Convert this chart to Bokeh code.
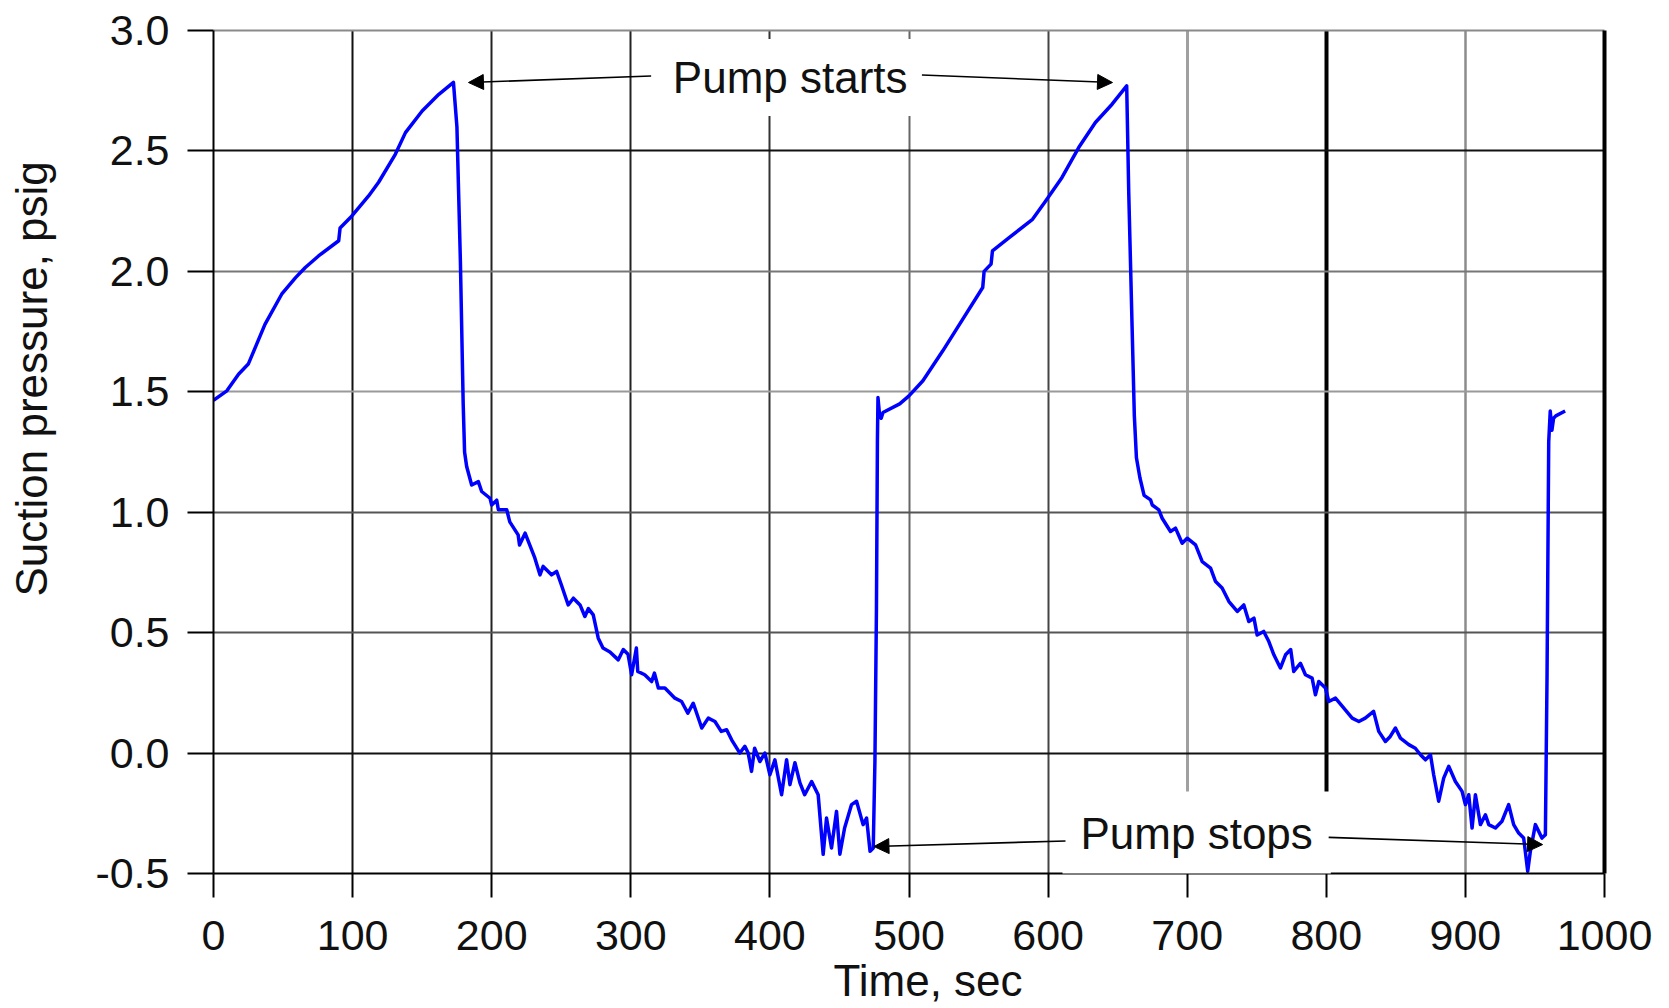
from bokeh.plotting import figure
from bokeh.models import Range1d, Grid, FixedTicker, Label, Arrow, NormalHead, LinearAxis, Title
from bokeh.embed import file_html
from bokeh.resources import INLINE

# ---------------- data ----------------
time_s = [
    0, 9.6, 18, 25, 37, 49, 59, 66, 75.5, 90, 91, 99.5, 111.5, 118.7, 130.7, 138, 150, 162, 172.5,
    175, 177.5, 179.5, 180.5, 182, 185.6, 190.4, 192.8, 198.8, 200, 203.6, 204.8, 210.8, 213, 219,
    220, 224, 231, 234.7, 237, 243, 246.7, 250, 255, 258.7, 263.5, 267, 269.5, 273, 276.6, 280,
    285, 291, 294.6, 298, 300.6, 304, 305, 310, 315, 317, 319.8, 324.5, 331.7, 336.5, 341, 344.9,
    351, 355.7, 360.5, 365, 368.9, 372.5, 378.4, 382, 384.4, 386.8, 389, 392.8, 396.4, 400, 403.6,
    408.4, 412, 414.4, 418, 421.6, 425, 430, 434.7, 438.3, 440.7, 444.3, 447.9, 450.3, 453.7,
    458.7, 462.3, 467, 469.5, 472, 474.3, 475.5, 476.6, 477.3, 477.7, 478.9, 480, 481.3, 493.3,
    500, 510, 524.3, 536.3, 553, 554, 559, 560, 572, 588.8, 598, 610, 622, 634, 646, 656.5,
    658, 660.4, 662, 663.5, 666, 669, 673.7, 674.9, 679.6, 682, 688, 691.6, 696.4, 700, 706,
    710.8, 716.8, 720.4, 725.1, 730, 736, 740.7, 744.3, 748, 750.3, 755, 758.7, 762.3, 767,
    770.7, 774.4, 776.6, 781.4, 785, 789.8, 792.2, 794.6, 799.4, 801.8, 806.6, 812.6, 818.6,
    823.4, 828, 834, 837.7, 842.5, 846, 849.7, 853.3, 859.3, 864, 867.7, 871.3, 874.9, 877.2,
    880.8, 884.4, 888, 892.8, 897.6, 900, 902.4, 904.8, 907.2, 910.8, 914.4, 916.8, 921.6, 926.3,
    931.1, 934.7, 938.3, 941.9, 944.8, 946.7, 950.3, 952.7, 955, 957.5, 958.7, 959.9, 961, 962.2,
    963.4, 965, 971.7,
]
pressure_psig = [
    1.465, 1.504, 1.573, 1.615, 1.78, 1.905, 1.974, 2.016, 2.064, 2.127, 2.18, 2.23, 2.313, 2.37,
    2.486, 2.576, 2.666, 2.735, 2.785,
    2.6, 2.04, 1.45, 1.25, 1.19, 1.113, 1.127, 1.086, 1.058, 1.03, 1.05, 1.01, 1.01, 0.96, 0.906,
    0.864, 0.913, 0.81, 0.74, 0.775, 0.74, 0.754, 0.7, 0.615, 0.643, 0.615, 0.567, 0.6, 0.574,
    0.477, 0.436,
    0.42, 0.387, 0.43, 0.41, 0.325, 0.436, 0.339, 0.325, 0.297, 0.332, 0.27, 0.27, 0.228, 0.214,
    0.166, 0.207,
    0.104, 0.145, 0.131, 0.09, 0.097, 0.055, 0.0, 0.028, 0.0, -0.076, 0.02, -0.035, 0.0, -0.09,
    -0.028,
    -0.173, -0.028, -0.131, -0.04, -0.124, -0.173, -0.118, -0.173, -0.42, -0.27, -0.394, -0.242,
    -0.42, -0.311,
    -0.214, -0.2, -0.297, -0.27, -0.408, -0.394, -0.035, 0.6, 1.3, 1.476, 1.40, 1.39, 1.414, 1.45,
    1.483, 1.546, 1.67, 1.78, 1.933, 2.0, 2.03, 2.085, 2.14, 2.216, 2.29, 2.39, 2.514, 2.618,
    2.694, 2.77,
    2.32, 1.767, 1.4, 1.226, 1.143, 1.07, 1.051, 1.03, 1.01, 0.975, 0.92, 0.934, 0.871, 0.892,
    0.864,
    0.795, 0.768, 0.712, 0.685, 0.629, 0.588, 0.615, 0.546, 0.56, 0.49, 0.505, 0.463, 0.408,
    0.353,
    0.408, 0.43, 0.339, 0.373, 0.325, 0.311, 0.242, 0.297, 0.27, 0.214, 0.228, 0.187, 0.145,
    0.131, 0.145, 0.173, 0.09, 0.048, 0.069, 0.104, 0.062, 0.035, 0.02, -0.007, -0.028, -0.007,
    -0.09,
    -0.2, -0.104, -0.055, -0.118, -0.159, -0.214, -0.173, -0.311, -0.173, -0.297, -0.256, -0.297,
    -0.311, -0.283,
    -0.214, -0.297, -0.332, -0.353, -0.491, -0.408, -0.297, -0.325, -0.353, -0.339, 0.325, 1.293,
    1.42, 1.34,
    1.39, 1.40, 1.42,
]

x_ticks = [0, 100, 200, 300, 400, 500, 600, 700, 800, 900, 1000]
x_tick_labels = ["0", "100", "200", "300", "400", "500", "600", "700", "800", "900", "1000"]
y_ticks = [-0.5, 0.0, 0.5, 1.0, 1.5, 2.0, 2.5, 3.0]
y_tick_labels = ["-0.5", "0.0", "0.5", "1.0", "1.5", "2.0", "2.5", "3.0"]
x_title = "Time, sec"
y_title = "Suction pressure, psig"

FONT = "Liberation Sans"

p = figure(width=1665, height=1006, x_range=Range1d(0, 1000), y_range=Range1d(-0.5, 3.0),
           output_backend="svg", toolbar_location=None,
           min_border_left=213, min_border_right=61, min_border_top=30, min_border_bottom=133)
p.xgrid.visible = False
p.ygrid.visible = False
p.outline_line_color = None
p.background_fill_color = "white"

# axes
p.xaxis.ticker = FixedTicker(ticks=x_ticks)
p.yaxis.ticker = FixedTicker(ticks=y_ticks)
p.xaxis.major_label_overrides = {t: l for t, l in zip(x_ticks, x_tick_labels)}
p.yaxis.major_label_overrides = {t: l for t, l in zip(y_ticks, y_tick_labels)}
for ax in (p.xaxis[0], p.yaxis[0]):
    ax.axis_line_color = "black"
    ax.axis_line_width = 2
    ax.major_tick_line_color = "black"
    ax.major_tick_line_width = 2
    ax.major_tick_in = 0
    ax.minor_tick_line_color = None
    ax.major_label_text_font = FONT
    ax.major_label_text_font_size = "43px"
    ax.major_label_text_color = "#111111"
p.xaxis.major_tick_out = 24
p.yaxis.major_tick_out = 26
p.xaxis.major_label_standoff = 23
p.yaxis.major_label_standoff = 18
# an empty (zero-width space) axis label only reserves room between tick labels and the title
p.yaxis.axis_label = "\u200b"
p.yaxis.axis_label_text_font_size = "1px"
p.yaxis.axis_label_standoff = 31

def blank_axis(line_color=None, line_width=1):
    return LinearAxis(ticker=FixedTicker(ticks=[]), axis_line_color=line_color,
                      axis_line_width=line_width, major_tick_out=0, major_tick_in=0,
                      minor_tick_out=0, minor_tick_in=0, major_label_standoff=0,
                      major_tick_line_color=None, minor_tick_line_color=None,
                      major_label_text_font_size="0px")

# right border (thick black) and top border (gray)
p.add_layout(blank_axis("black", 4), "right")
p.add_layout(blank_axis("#8a8a8a", 2), "above")

# axis titles (placed off-centre as in the reference)
p.add_layout(Title(text=y_title, align="left", offset=277, standoff=4,
                   text_font=FONT, text_font_size="44px", text_font_style="normal",
                   text_color="#111111"), "left")
p.add_layout(Title(text=x_title, align="left", offset=620, standoff=2,
                   text_font=FONT, text_font_size="44px", text_font_style="normal",
                   text_color="#111111"), "below")

# grid lines with scanned-look varying darkness
vgroups = [([100], "#111111", 2), ([200, 300], "#222222", 2), ([400], "#333333", 2),
           ([500], "#666666", 2), ([600], "#444444", 2), ([700], "#a0a0a0", 3),
           ([800], "#000000", 4), ([900], "#8c8c8c", 2.5)]
for ticks, col, w in vgroups:
    p.add_layout(Grid(dimension=0, ticker=FixedTicker(ticks=ticks), grid_line_color=col,
                      grid_line_width=w))
hgroups = [([2.5, 0.0], "#111111", 2), ([2.0], "#777777", 2), ([1.5], "#9a9a9a", 2),
           ([1.0, 0.5], "#555555", 2)]
for ticks, col, w in hgroups:
    p.add_layout(Grid(dimension=1, ticker=FixedTicker(ticks=ticks), grid_line_color=col,
                      grid_line_width=w))

# data line
p.line(time_s, pressure_psig, line_color="#0000ff", line_width=3.5, line_join="round")

# annotations
lab_kw = dict(text_font=FONT, text_font_size="44px", text_color="#111111",
              text_align="center", text_baseline="alphabetic")
p.add_layout(Label(x=414.6, y=2.805, text="Pump starts", background_fill_color="white",
                   padding=14, **lab_kw))
p.add_layout(Label(x=706.8, y=-0.336, text="Pump stops", background_fill_color="white",
                   padding=18, **lab_kw))

def arrow(xs, ys, xe, ye):
    p.add_layout(Arrow(end=NormalHead(size=15, fill_color="black", line_color="black",
                                      line_width=1),
                       x_start=xs, y_start=ys, x_end=xe, y_end=ye,
                       line_color="black", line_width=1.6))

arrow(314.6, 2.811, 183.3, 2.784)
arrow(509.3, 2.815, 646.3, 2.784)
arrow(612.5, -0.365, 474.8, -0.388)
arrow(801.7, -0.35, 955.5, -0.38)

open("out.html", "w").write(file_html(p, INLINE))
